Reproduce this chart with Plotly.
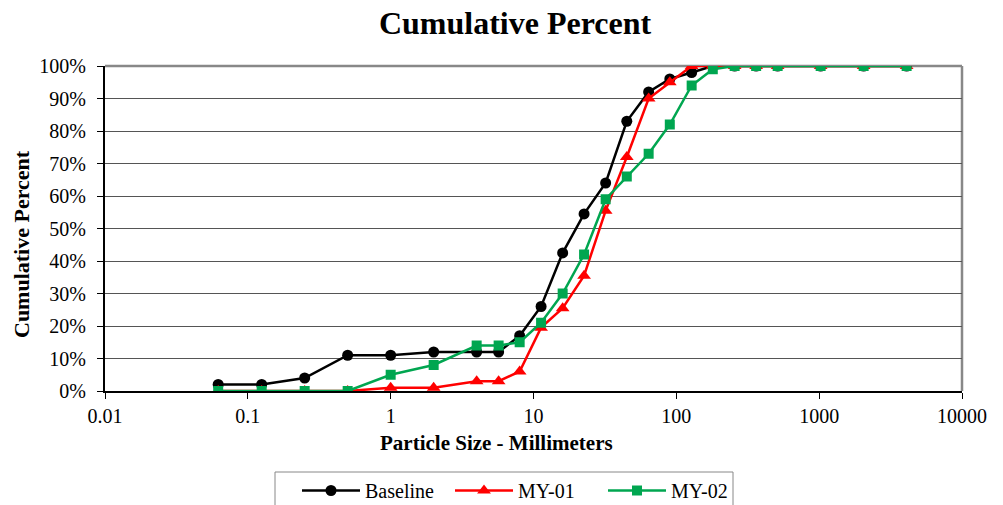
import plotly.graph_objects as go

sizes = [0.062, 0.125, 0.25, 0.5, 1, 2, 4, 5.7, 8, 11.3, 16, 22.6, 32, 45, 64, 90, 128, 180, 256, 362, 512, 1024, 2048, 4096]
baseline = [2, 2, 4, 11, 11, 12, 12, 12, 17, 26, 42.5, 54.5, 64, 83, 92, 96, 98, 100, 100, 100, 100, 100, 100, 100]
my01 = [0, 0, 0, 0, 1, 1, 3, 3, 6, 19.5, 25.5, 35.5, 55.5, 72, 90, 95, 100, 100, 100, 100, 100, 100, 100, 100]
my02 = [0, 0, 0, 0, 5, 8, 14, 14, 15, 21, 30, 42, 59, 66, 73, 82, 94, 99, 100, 100, 100, 100, 100, 100]

series = [
    ("Baseline", baseline, "#000000", "circle", 11),
    ("MY-01", my01, "#ff0000", "triangle-up", 12),
    ("MY-02", my02, "#00a650", "square", 10),
]

title_text = "Cumulative Percent"
x_title = "Particle Size - Millimeters"
y_title = "Cumulative Percent"

font_family = "Liberation Serif, Times New Roman, serif"

# page body has an 8px margin, so the figure starts at (8, 8) in the window
OFF = 8
W, H = 1003 - OFF, 505 - OFF
L, R, T, B = 105 - OFF, 41, 66 - OFF, 114
pw, ph = W - L - R, H - T - B


def px_x(x):
    return (x - OFF - L) / pw


def px_y(y):
    return (H - B - (y - OFF)) / ph


fig = go.Figure()
for name, vals, color, sym, msize in series:
    fig.add_trace(go.Scatter(
        x=sizes, y=vals, name=name, mode="lines+markers",
        line=dict(color=color, width=2.5),
        marker=dict(symbol=sym, size=msize, color=color),
    ))

# gray top/right border of plot area
fig.add_shape(type="line", xref="paper", yref="paper", x0=0, x1=1, y0=1, y1=1,
              line=dict(color="#888888", width=2.5), layer="below")
fig.add_shape(type="line", xref="paper", yref="paper", x0=1, x1=1, y0=0, y1=1,
              line=dict(color="#888888", width=2.5), layer="below")
# legend box
fig.add_shape(type="rect", xref="paper", yref="paper",
              x0=px_x(275), x1=px_x(733), y0=px_y(512), y1=px_y(472),
              line=dict(color="#888888", width=1), fillcolor="rgba(0,0,0,0)")

# axis titles (placed as in the reference, off-centre)
fig.add_annotation(text=f"<b>{x_title}</b>", xref="paper", yref="paper",
                   x=px_x(496), y=px_y(443), xanchor="center", yanchor="middle",
                   showarrow=False, font=dict(size=21, family=font_family, color="black"))
fig.add_annotation(text=f"<b>{y_title}</b>", xref="paper", yref="paper",
                   x=px_x(21), y=px_y(244), xanchor="center", yanchor="middle",
                   textangle=-90, showarrow=False,
                   font=dict(size=22, family=font_family, color="black"))

fig.update_layout(
    width=W, height=H,
    margin=dict(l=L, r=R, t=T, b=B, autoexpand=False),
    paper_bgcolor="white", plot_bgcolor="white",
    font=dict(family=font_family, size=20, color="black"),
    title=dict(text=f"<b>{title_text}</b>", x=(515 - OFF) / W, xanchor="center",
               y=1 - (23 - OFF) / H, yanchor="middle", font=dict(size=32, family=font_family)),
    xaxis=dict(
        type="log", range=[-2, 4], automargin=False,
        tickvals=[0.01, 0.1, 1, 10, 100, 1000, 10000],
        ticktext=["0.01", "0.1", "1", "10", "100", "1000", "10000"],
        tickfont=dict(size=20, family=font_family),
        showgrid=False, showline=True, linecolor="black", linewidth=2,
        ticks="outside", ticklen=6, tickcolor="black",
        zeroline=False,
    ),
    yaxis=dict(
        range=[0, 100], automargin=False,
        tickvals=[0, 10, 20, 30, 40, 50, 60, 70, 80, 90, 100],
        ticktext=[f"{v}%" for v in range(0, 101, 10)],
        tickfont=dict(size=20, family=font_family),
        ticklabelstandoff=7,
        showgrid=True, gridcolor="#555555", gridwidth=1,
        showline=True, linecolor="black", linewidth=2,
        ticks="outside", ticklen=6, tickcolor="black",
        zeroline=False,
    ),
    legend=dict(
        orientation="h", x=px_x(297), xanchor="left", y=px_y(471), yanchor="top",
        borderwidth=0, font=dict(size=20, family=font_family), bgcolor="rgba(0,0,0,0)",
        itemwidth=58, entrywidth=80,
    ),
    showlegend=True,
)

fig.write_html("out.html")
